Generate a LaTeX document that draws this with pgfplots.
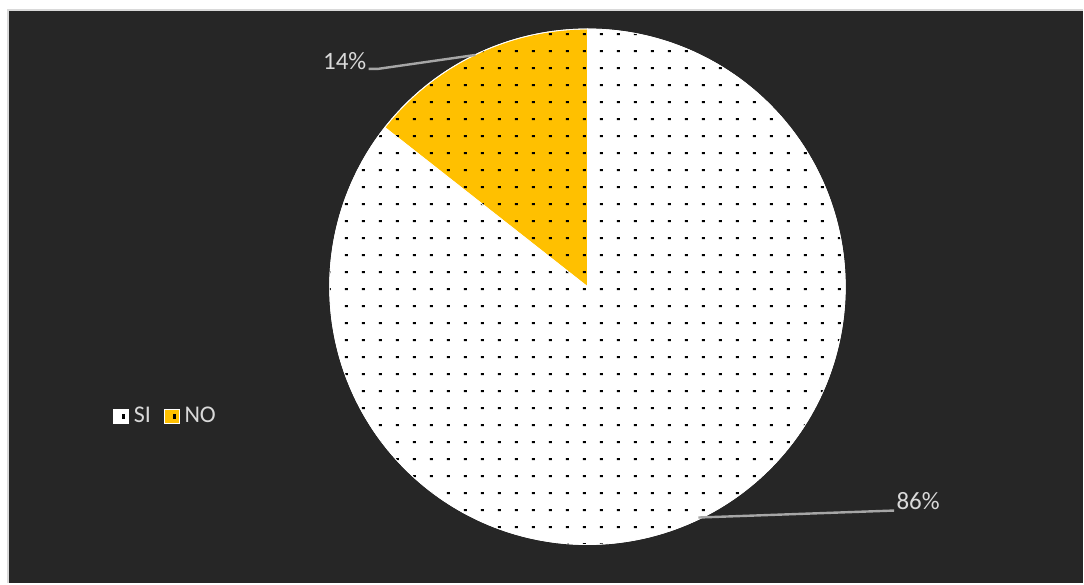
\documentclass[border=0pt]{standalone}
\usepackage{pgfplots}
\pgfplotsset{compat=1.18}
\usetikzlibrary{patterns}
\usepackage{fontspec}
\setmainfont{Carlito}
\definecolor{bgdark}{HTML}{262626}
\definecolor{gold}{HTML}{FFC000}
\definecolor{txt}{HTML}{D9D9D9}
\definecolor{lead}{HTML}{A6A6A6}
\definecolor{frame}{HTML}{D9D9D9}
\pgfdeclarepatternformonly{pdots}{\pgfpointorigin}{\pgfpoint{8.5pt}{8.5pt}}{\pgfpoint{8.5pt}{8.5pt}}{%
  \pgfpathrectangle{\pgfpoint{3pt}{3pt}}{\pgfpoint{1.4pt}{1pt}}\pgfusepath{fill}}
\begin{document}
\begin{tikzpicture}
\begin{axis}[
  scale only axis, width=542pt, height=292pt,
  xmin=0, xmax=1084, ymin=0, ymax=584,
  hide axis, clip=false,
  legend columns=2,
  legend style={at={(axis cs:107,167)}, anchor=west, draw=none, fill=none,
    text=txt, font=\fontsize{12pt}{14pt}\selectfont,
    nodes={inner xsep=2.5pt},
    /tikz/every even column/.append style={column sep=4pt}},
  legend image code/.code={%
    \fill[#1] (0pt,-3.6pt) rectangle (7.4pt,3.6pt);
    \fill[black] (4.6pt,-0.9pt) rectangle (5.4pt,0.9pt);},
]
% background
\fill[white] (axis cs:0,0) rectangle (axis cs:1084,584);
\fill[bgdark] (axis cs:8,0) rectangle (axis cs:1084,574);
\draw[frame, line width=1pt] (axis cs:8,0) -- (axis cs:8,574) -- (axis cs:1084,574);
% SI: 85.6 %, NO: 14.4 %  (start at 90 deg, counterclockwise)
\addplot[fill=white, draw=white, line width=0.4pt,
  postaction={pattern=pdots, pattern color=black},
  domain={90+14.4*3.6}:450, samples=240, variable=\t]
  ({588+258*cos(t)},{297+258*sin(t)}) -- (axis cs:588,297) -- cycle;
\addlegendentry{SI}
\addplot[fill=gold, draw=white, line width=0.4pt,
  postaction={pattern=pdots, pattern color=black},
  domain=90:{90+14.4*3.6}, samples=60, variable=\t]
  ({588+258*cos(t)},{297+258*sin(t)}) -- (axis cs:588,297) -- cycle;
\addlegendentry{NO}
% leader lines
\addplot[lead, line width=1.2pt, forget plot] coordinates {(369,515) (378,515) (476,529)};
\addplot[lead, line width=1.2pt, forget plot] coordinates {(699,66) (895,73)};
% data labels
\node[text=txt, font=\fontsize{12.5pt}{15pt}\selectfont, anchor=center] at (axis cs:345,523) {14\%};
\node[text=txt, font=\fontsize{12.5pt}{15pt}\selectfont, anchor=center] at (axis cs:919,82) {86\%};
\end{axis}
\end{tikzpicture}
\end{document}
